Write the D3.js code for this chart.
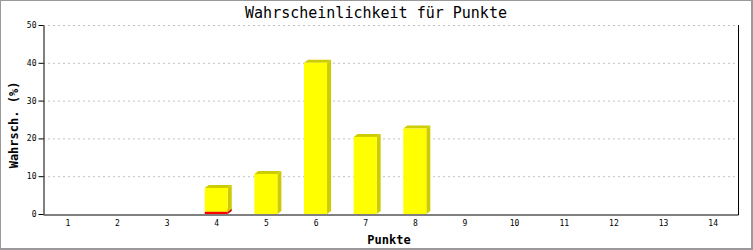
<!DOCTYPE html>
<html>
<head>
<meta charset="utf-8">
<script src="https://cdn.jsdelivr.net/npm/d3@7"></script>
<style>
  body { margin: 0; background: white; }
  text { font-family: "DejaVu Sans Mono", "Liberation Mono", monospace; }
</style>
</head>
<body>
<div id="container"></div>
<script>
let w = 753;
let h = 250;

// data
let punkte = [1, 2, 3, 4, 5, 6, 7, 8, 9, 10, 11, 12, 13, 14];
let roteWerte = [0, 0, 0, 0.6, 0, 0, 0, 0, 0, 0, 0, 0, 0, 0];
let gelbeWerte = [0, 0, 0, 6.3, 10.6, 40.0, 20.4, 22.6, 0, 0, 0, 0, 0, 0];
let yTicks = [0, 10, 20, 30, 40, 50];

let viz = d3.select("#container")
    .append("svg")
      .attr("width", w)
      .attr("height", h)
      .style("background-color", "white");

let plotLeft = 43, plotRight = 738, plotTop = 25, plotBottom = 214;

let xScale = d3.scaleBand().domain(punkte).range([plotLeft, plotRight]).padding(0);
let yScale = d3.scaleLinear().domain([0, 50]).range([plotBottom, plotTop]);

// border
viz.append("rect")
  .attr("x", 0).attr("y", 0)
  .attr("width", 752).attr("height", 249)
  .attr("fill", "none")
  .attr("stroke", "#999")
  .attr("stroke-width", 2);

// grid
viz.append("g").selectAll("line")
  .data(yTicks.filter(d => d > 0))
  .enter().append("line")
    .attr("x1", plotLeft).attr("x2", plotRight)
    .attr("y1", d => yScale(d) + 0.5).attr("y2", d => yScale(d) + 0.5)
    .attr("stroke", "#c0c0c0")
    .attr("stroke-dasharray", "2,3");

// stacked data
let rows = punkte.map(function(p, i){
  return { punkt: p, rot: roteWerte[i], gelb: gelbeWerte[i] };
});
let series = d3.stack().keys(["rot", "gelb"])(rows);
let farben = { rot: ["#ff0000", "#c80000"], gelb: ["#ffff00", "#cccc00"] };

let barW = 23, dx = 4, dy = 3;

series.forEach(function(s){
  let g = viz.append("g");
  s.forEach(function(d){
    if (d[1] - d[0] <= 0) return;
    let x0 = xScale(d.data.punkt) + xScale.bandwidth() / 2 - 12;
    let x1 = x0 + barW;
    let y0 = yScale(d[0]);
    let y1 = yScale(d[1]);
    // side
    g.append("polygon")
      .attr("points", [[x1, y0], [x1 + dx, y0 - dy], [x1 + dx, y1 - dy], [x1, y1]].join(" "))
      .attr("fill", farben[s.key][1]);
    // top
    g.append("polygon")
      .attr("points", [[x0, y1], [x0 + dx, y1 - dy], [x1 + dx, y1 - dy], [x1, y1]].join(" "))
      .attr("fill", farben[s.key][1]);
    // front
    g.append("rect")
      .attr("x", x0).attr("y", y1)
      .attr("width", barW).attr("height", y0 - y1)
      .attr("fill", farben[s.key][0]);
  });
});

// axes
let yAxis = d3.axisLeft(yScale).tickValues(yTicks).tickSize(5).tickPadding(2).tickSizeOuter(0);
let yAxisGroup = viz.append("g").attr("class", "yaxis")
  .attr("transform", "translate(" + (plotLeft + 0.5) + ", 0)")
  .call(yAxis);
yAxisGroup.selectAll("text").style("font-size", "8px").attr("fill", "black");

let xAxis = d3.axisBottom(xScale).tickSize(0).tickPadding(6).tickSizeOuter(0);
let xAxisGroup = viz.append("g").attr("class", "xaxis")
  .attr("transform", "translate(0, " + (plotBottom + 0.5) + ")")
  .call(xAxis);
xAxisGroup.selectAll("text").style("font-size", "8px").attr("fill", "black");

// right frame line
viz.append("line")
  .attr("x1", plotRight + 0.5).attr("x2", plotRight + 0.5)
  .attr("y1", plotTop).attr("y2", plotBottom + 1)
  .attr("stroke", "black");

// title
viz.append("text")
  .attr("x", 376).attr("y", 18)
  .attr("text-anchor", "middle")
  .style("font-size", "15px")
  .text("Wahrscheinlichkeit für Punkte");

viz.append("text")
  .attr("x", 389).attr("y", 244)
  .attr("text-anchor", "middle")
  .style("font-size", "12px")
  .style("font-weight", "bold")
  .text("Punkte");

viz.append("text")
  .attr("transform", "translate(18, 125) rotate(-90)")
  .attr("text-anchor", "middle")
  .style("font-size", "12px")
  .style("font-weight", "bold")
  .text("Wahrsch. (%)");
</script>
</body>
</html>
